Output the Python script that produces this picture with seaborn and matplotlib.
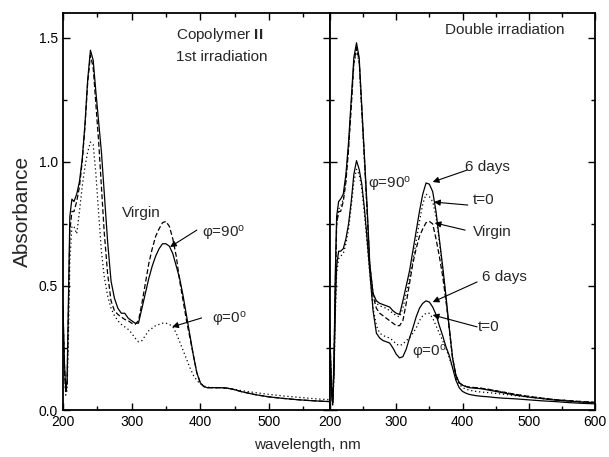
import matplotlib
matplotlib.use("Agg")
import matplotlib.pyplot as plt
import seaborn as sns
from matplotlib.ticker import MultipleLocator

sns.set_style("ticks")
plt.rcParams['font.family'] = ['Liberation Sans', 'DejaVu Sans']
plt.rcParams['mathtext.fontset'] = 'custom'
plt.rcParams['mathtext.rm'] = 'Liberation Sans'
plt.rcParams['mathtext.bf'] = 'Liberation Sans:bold'
plt.rcParams['mathtext.it'] = 'Liberation Sans:italic'

# wavelength grid (nm), shared by all spectra
wl = [200, 202, 204, 206, 208, 210, 213, 216, 220, 224,
      228, 232, 236, 240, 244, 248, 252, 256, 260, 265,
      270, 275, 280, 285, 290, 295, 300, 305, 310, 315,
      320, 325, 330, 335, 340, 345, 350, 355, 360, 365,
      370, 375, 380, 385, 390, 395, 400, 405, 410, 420,
      430, 440, 450, 460, 480, 500, 520, 540, 560, 580,
      600]

# left panel: copolymer II, 1st irradiation
left_phi90 = [0.42, 0.20, 0.08, 0.12, 0.45, 0.78, 0.85, 0.84, 0.87, 0.92,
              1.01, 1.15, 1.33, 1.45, 1.41, 1.28, 1.16, 1.04, 0.88, 0.68,
              0.52, 0.45, 0.41, 0.39, 0.39, 0.37, 0.36, 0.35, 0.35, 0.41,
              0.47, 0.53, 0.58, 0.62, 0.65, 0.67, 0.67, 0.66, 0.63, 0.58,
              0.53, 0.46, 0.38, 0.30, 0.22, 0.15, 0.11, 0.095, 0.09, 0.09,
              0.09, 0.088, 0.082, 0.074, 0.062, 0.053, 0.047, 0.042, 0.038, 0.035,
              0.033]
left_virgin = [0.40, 0.18, 0.07, 0.10, 0.40, 0.72, 0.80, 0.80, 0.84, 0.90,
               1.00, 1.14, 1.32, 1.43, 1.38, 1.23, 1.08, 0.90, 0.72, 0.55,
               0.44, 0.40, 0.385, 0.375, 0.365, 0.36, 0.35, 0.345, 0.36, 0.43,
               0.51, 0.59, 0.65, 0.70, 0.73, 0.755, 0.76, 0.74, 0.69, 0.62,
               0.52, 0.44, 0.36, 0.29, 0.22, 0.15, 0.11, 0.095, 0.09, 0.09,
               0.09, 0.088, 0.082, 0.074, 0.062, 0.053, 0.047, 0.042, 0.038, 0.035,
               0.033]
left_phi0 = [0.40, 0.18, 0.06, 0.08, 0.30, 0.60, 0.74, 0.74, 0.71, 0.80,
             0.90, 0.98, 1.04, 1.08, 1.07, 0.95, 0.79, 0.64, 0.54, 0.46,
             0.41, 0.38, 0.36, 0.345, 0.335, 0.325, 0.31, 0.29, 0.275, 0.28,
             0.30, 0.32, 0.33, 0.34, 0.345, 0.35, 0.35, 0.345, 0.335, 0.31,
             0.275, 0.24, 0.205, 0.17, 0.14, 0.12, 0.105, 0.097, 0.092, 0.09,
             0.09, 0.087, 0.083, 0.078, 0.07, 0.063, 0.057, 0.052, 0.047, 0.043,
             0.04]

# right panel: double irradiation
right_phi90_6d = [0.30, 0.10, 0.03, 0.20, 0.55, 0.78, 0.84, 0.85, 0.87, 0.95,
                  1.08, 1.25, 1.42, 1.48, 1.42, 1.22, 1.02, 0.82, 0.59, 0.47,
                  0.44, 0.43, 0.425, 0.42, 0.415, 0.40, 0.39, 0.385, 0.44, 0.50,
                  0.56, 0.64, 0.72, 0.80, 0.87, 0.915, 0.91, 0.88, 0.80, 0.69,
                  0.58, 0.46, 0.33, 0.21, 0.14, 0.11, 0.10, 0.095, 0.09, 0.088,
                  0.085, 0.08, 0.075, 0.07, 0.06, 0.052, 0.046, 0.04, 0.036, 0.032,
                  0.03]
right_phi90_t0 = [0.28, 0.09, 0.03, 0.18, 0.50, 0.74, 0.81, 0.82, 0.85, 0.93,
                  1.06, 1.23, 1.39, 1.45, 1.40, 1.20, 1.00, 0.80, 0.58, 0.47,
                  0.43, 0.42, 0.415, 0.41, 0.40, 0.39, 0.38, 0.375, 0.41, 0.47,
                  0.53, 0.60, 0.68, 0.76, 0.83, 0.87, 0.86, 0.84, 0.78, 0.68,
                  0.57, 0.45, 0.33, 0.21, 0.14, 0.11, 0.10, 0.095, 0.092, 0.09,
                  0.087, 0.083, 0.078, 0.073, 0.063, 0.055, 0.048, 0.042, 0.038, 0.034,
                  0.031]
right_virgin = [0.29, 0.09, 0.03, 0.18, 0.50, 0.75, 0.80, 0.80, 0.84, 0.92,
                1.05, 1.22, 1.40, 1.46, 1.41, 1.21, 1.01, 0.80, 0.58, 0.46,
                0.41, 0.39, 0.38, 0.37, 0.36, 0.35, 0.34, 0.34, 0.36, 0.43,
                0.51, 0.59, 0.65, 0.70, 0.73, 0.755, 0.76, 0.75, 0.69, 0.62,
                0.54, 0.44, 0.33, 0.21, 0.14, 0.11, 0.10, 0.095, 0.092, 0.09,
                0.087, 0.083, 0.078, 0.073, 0.063, 0.055, 0.048, 0.042, 0.038, 0.034,
                0.031]
right_phi0_6d = [0.24, 0.08, 0.02, 0.15, 0.42, 0.58, 0.64, 0.64, 0.65, 0.69,
                 0.75, 0.84, 0.95, 1.005, 0.97, 0.91, 0.81, 0.69, 0.56, 0.40,
                 0.31, 0.29, 0.28, 0.275, 0.27, 0.25, 0.225, 0.21, 0.215, 0.245,
                 0.29, 0.33, 0.375, 0.41, 0.43, 0.44, 0.435, 0.415, 0.385, 0.34,
                 0.30, 0.255, 0.22, 0.17, 0.12, 0.09, 0.075, 0.068, 0.063, 0.058,
                 0.055, 0.053, 0.05, 0.048, 0.045, 0.041, 0.037, 0.034, 0.03, 0.027,
                 0.025]
right_phi0_t0 = [0.22, 0.07, 0.02, 0.13, 0.38, 0.55, 0.61, 0.62, 0.63, 0.67,
                 0.73, 0.82, 0.92, 0.97, 0.95, 0.89, 0.79, 0.67, 0.55, 0.41,
                 0.34, 0.31, 0.30, 0.295, 0.29, 0.28, 0.265, 0.26, 0.265, 0.28,
                 0.29, 0.31, 0.33, 0.36, 0.38, 0.39, 0.39, 0.37, 0.34, 0.31,
                 0.28, 0.25, 0.21, 0.17, 0.13, 0.105, 0.09, 0.085, 0.08, 0.075,
                 0.072, 0.07, 0.067, 0.064, 0.058, 0.052, 0.046, 0.041, 0.036, 0.032,
                 0.03]

solid = '-'
dashed = (0, (4, 2))
dotted = (0, (1, 2.2))

fig = plt.figure(figsize=(6.09, 4.57), dpi=100)
ax1 = fig.add_axes([0.1034, 0.1028, 0.4385, 0.8688])
ax2 = fig.add_axes([0.5419, 0.1028, 0.4351, 0.8688])

for y, ls in [(left_phi90, solid), (left_virgin, dashed), (left_phi0, dotted)]:
    sns.lineplot(x=wl, y=y, ax=ax1, color='black', linestyle=ls, linewidth=0.9)

for y, ls in [(right_phi90_6d, solid), (right_phi90_t0, dotted), (right_virgin, dashed),
              (right_phi0_6d, solid), (right_phi0_t0, dotted)]:
    sns.lineplot(x=wl, y=y, ax=ax2, color='black', linestyle=ls, linewidth=0.9)

for ax, xmax in [(ax1, 589), (ax2, 600)]:
    ax.set_xlim(200, xmax)
    ax.set_ylim(0, 1.6)
    ax.xaxis.set_major_locator(MultipleLocator(100))
    ax.xaxis.set_minor_locator(MultipleLocator(50))
    ax.yaxis.set_major_locator(MultipleLocator(0.5))
    ax.yaxis.set_minor_locator(MultipleLocator(0.25))
    ax.tick_params(which='both', direction='in', top=True, right=True,
                   width=1.0, labelsize=10, colors='black')
    ax.tick_params(which='major', length=5)
    ax.tick_params(which='minor', length=3)
    for s in ax.spines.values():
        s.set_linewidth(1.3)
        s.set_color('black')
    ax.set_xlabel('')
    ax.set_ylabel('')

ax2.tick_params(labelleft=False)
ax1.set_ylabel('Absorbance', fontsize=15, labelpad=5)
fig.text(0.504, 1 - 445 / 457, 'wavelength, nm', fontsize=11, ha='center', va='center')

arrow = dict(arrowstyle='-|>', color='black', lw=0.8, mutation_scale=9,
             shrinkA=0, shrinkB=0)
fs = 11

# left panel labels
ax1.text(365, 1.51, r'Copolymer $\mathbf{II}$', fontsize=fs, va='center')
ax1.text(365, 1.423, '1st irradiation', fontsize=fs, va='center')
ax1.text(314, 0.794, 'Virgin', fontsize=fs, ha='center', va='center')
ax1.text(402, 0.713, r'φ=90$^\mathrm{o}$', fontsize=fs, va='center')
ax1.annotate('', xy=(356, 0.657), xytext=(395, 0.725), arrowprops=arrow)
ax1.text(417, 0.363, r'φ=0$^\mathrm{o}$', fontsize=fs, va='center')
ax1.annotate('', xy=(359, 0.335), xytext=(402, 0.371), arrowprops=arrow)

# right panel labels
ax2.text(374, 1.532, 'Double irradiation', fontsize=fs, va='center')
ax2.text(257, 0.907, r'φ=90$^\mathrm{o}$', fontsize=fs, va='center')
ax2.text(404, 0.979, '6 days', fontsize=fs, va='center')
ax2.annotate('', xy=(355, 0.919), xytext=(407, 0.967), arrowprops=arrow)
ax2.text(416, 0.846, 't=0', fontsize=fs, va='center')
ax2.annotate('', xy=(357, 0.838), xytext=(408, 0.826), arrowprops=arrow)
ax2.text(416, 0.717, 'Virgin', fontsize=fs, va='center')
ax2.annotate('', xy=(358, 0.754), xytext=(404, 0.725), arrowprops=arrow)
ax2.text(429, 0.536, '6 days', fontsize=fs, va='center')
ax2.annotate('', xy=(355, 0.435), xytext=(422, 0.516), arrowprops=arrow)
ax2.text(423, 0.335, 't=0', fontsize=fs, va='center')
ax2.annotate('', xy=(355, 0.383), xytext=(422, 0.335), arrowprops=arrow)
ax2.text(324, 0.23, r'φ=0$^\mathrm{o}$', fontsize=fs, va='center')

fig.savefig('out.png', dpi=100)
